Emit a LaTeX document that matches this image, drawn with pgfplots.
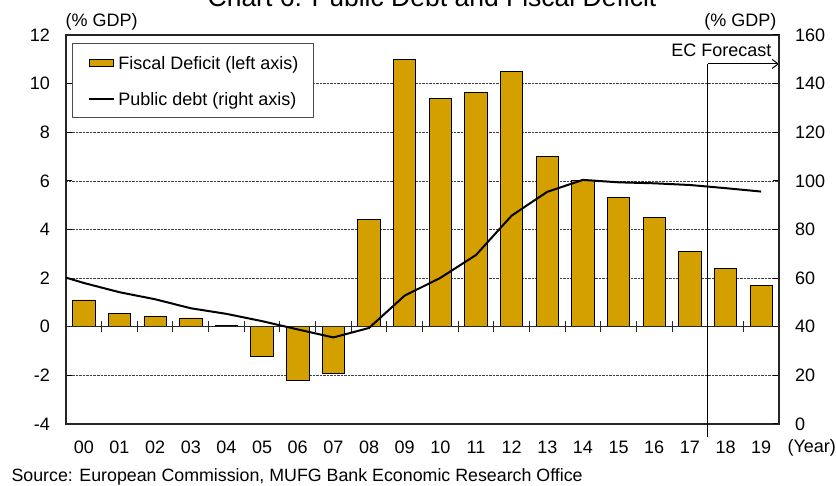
\documentclass[border=0pt]{standalone}
\usepackage{fontspec}
\setmainfont{Liberation Sans}
\usepackage{pgfplots}
\pgfplotsset{compat=1.18}
\usetikzlibrary{arrows.meta}
\definecolor{bargold}{RGB}{212,160,0}
\pgfplotsset{
  barlegend/.style={legend image code/.code={\draw[#1] (0bp,-3.6bp) rectangle (24bp,3.6bp);}},
  linelegend/.style={legend image code/.code={\draw[#1] (0bp,0bp) -- (25bp,0bp);}},
}
\begin{document}
\begin{tikzpicture}[x=1bp,y=1bp,font=\fontsize{18bp}{21bp}\selectfont]
\useasboundingbox (0,0) rectangle (836,486);
\clip (0,0) rectangle (836,486);
\begin{axis}[
  at={(66bp,62bp)}, anchor=south west,
  scale only axis, width=713bp, height=389bp,
  xmin=-0.5, xmax=19.5, ymin=-4, ymax=12,
  xtick={0,...,19},
  xticklabels={00,01,02,03,04,05,06,07,08,09,10,11,12,13,14,15,16,17,18,19},
  xtick style={draw=none},
  xtick pos=bottom, ytick pos=left,
  xticklabel style={inner sep=0pt, anchor=base, yshift=-23.5bp},
  ytick={-4,-2,0,2,4,6,8,10,12},
  yticklabels={-4,-2,0,2,4,6,8,10,12},
  yticklabel style={inner sep=0pt, anchor=east, xshift=-16bp},
  tick align=inside, major tick length=6bp,
  ytick style={line width=1bp, black},
  ymajorgrids, major grid style={densely dotted, black!75, line width=0.7bp},
  axis line style={line width=1.2bp, black!85},
  ybar, bar width=22.4bp,
  clip=false,
]
\addplot[fill=bargold, draw=black, line width=0.8bp] coordinates {
 (0,1.1) (1,0.55) (2,0.43) (3,0.36) (4,0.05) (5,-1.2) (6,-2.2) (7,-1.9)
 (8,4.4) (9,11.0) (10,9.4) (11,9.65) (12,10.5) (13,7.0) (14,6.0) (15,5.3)
 (16,4.5) (17,3.1) (18,2.4) (19,1.7)};
\draw[line width=1.2bp, black!85] (axis cs:-0.5,0) -- (axis cs:19.5,0);
\pgfplotsinvokeforeach{0.5,1.5,2.5,3.5,4.5,5.5,6.5,7.5,8.5,9.5,10.5,11.5,12.5,13.5,14.5,15.5,16.5,17.5,18.5}{
  \draw[line width=1bp, black!85] (axis cs:#1,0) ++(0bp,-5.5bp) -- ++(0bp,11bp);
}
\draw[line width=1bp, black] (axis cs:17.5,-4) ++(0bp,-13bp) -- (axis cs:17.5,10.81);
\draw[line width=1bp, black, -{Straight Barb[length=6bp,width=9bp]}] (axis cs:17.5,10.81) -- (axis cs:19.5,10.81);
\end{axis}
\begin{axis}[
  at={(66bp,62bp)}, anchor=south west,
  scale only axis, width=713bp, height=389bp,
  xmin=-0.5, xmax=19.5, ymin=0, ymax=160,
  axis x line=none, axis y line*=right,
  ytick={0,20,40,60,80,100,120,140,160},
  yticklabels={0,20,40,60,80,100,120,140,160},
  yticklabel style={inner sep=0pt, anchor=west, xshift=16bp},
  tick align=inside, major tick length=6bp,
  ytick style={line width=1bp, black},
  axis line style={line width=1.2bp, black!85},
  legend cell align=left,
  legend style={at={(0.0088,0.9787)}, anchor=north west, draw=black!70,
    line width=1bp, fill=white, inner xsep=15.5bp, inner ysep=10.5bp,
    row sep=19bp, column sep=3bp,
    nodes={inner sep=0pt, text height=15bp, text depth=2bp},
    font=\fontsize{18bp}{21bp}\selectfont},
]
\addlegendimage{fill=bargold, draw=black, line width=0.8bp, barlegend}
\addlegendentry{Fiscal Deficit (left axis)}
\addplot[black, line width=2bp, linelegend] coordinates {
 (-1,62.4) (0,58.0) (1,54.2) (2,51.3) (3,47.6) (4,45.3) (5,42.3) (6,38.9) (7,35.6)
 (8,39.5) (9,52.8) (10,60.1) (11,69.5) (12,85.7) (13,95.5) (14,100.4)
 (15,99.4) (16,99.0) (17,98.3) (18,97.0) (19,95.6)};
\addlegendentry{Public debt (right axis)}
\end{axis}
\node[anchor=base, font=\fontsize{26.5bp}{30bp}\selectfont] at (432,479.5) {Chart 6: Public Debt and Fiscal Deficit};
\node[anchor=base west] at (62,459.5) {(\% GDP)};
\node[anchor=base east] at (780,459.5) {(\% GDP)};
\node[anchor=base east] at (775,429.3) {EC Forecast};
\node[anchor=base west] at (784,33) {(Year)};
\node[anchor=base west, font=\fontsize{17.8bp}{21bp}\selectfont] at (8,4.5) {Source: European Commission, MUFG Bank Economic Research Office};
\end{tikzpicture}
\end{document}
